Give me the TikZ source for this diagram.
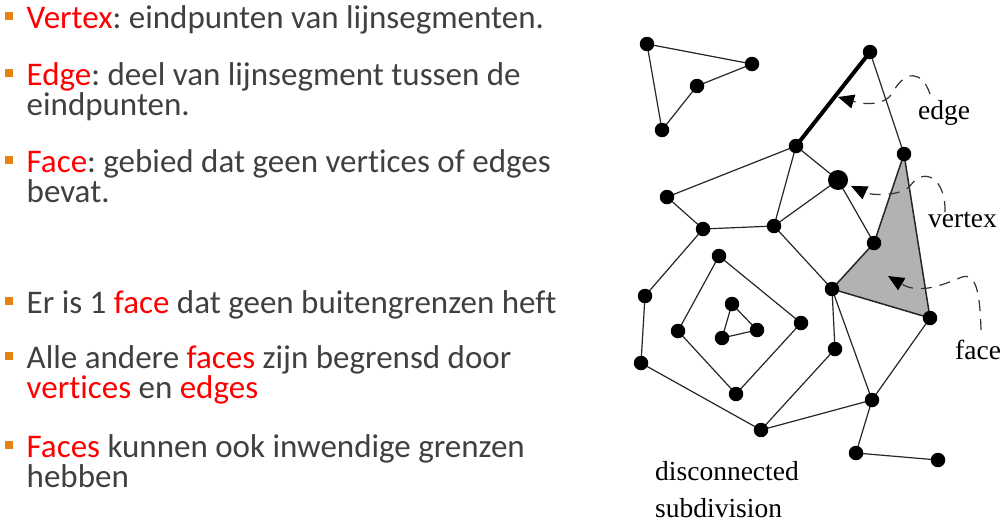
\documentclass[tikz,border=0pt]{standalone}
\usepackage{fontspec}
\newfontfamily\carlito[Ligatures=NoCommon]{Carlito}
\newfontfamily\timesf{Liberation Serif}
\usetikzlibrary{arrows.meta,backgrounds}
\definecolor{txtgray}{RGB}{64,64,64}
\definecolor{bulorange}{RGB}{228,131,18}
\definecolor{facegray}{RGB}{178,178,178}
\definecolor{hlred}{RGB}{255,0,0}
\frenchspacing
\begin{document}
\begin{tikzpicture}[x=1pt,y=-1pt,
 vtx/.style={circle, fill=black, draw=none, inner sep=0pt, minimum size=14.5pt},
 bigvtx/.style={vtx, minimum size=20pt},
 ln/.style={line width=1.2pt, draw=black!85},
 thickln/.style={line width=4pt, draw=black},
 lbl/.style={font=\timesf\fontsize{27.5}{30}\selectfont, anchor=base west, inner sep=0pt, text=black},
 txt/.style={font=\carlito\fontsize{33}{30}\selectfont\frenchspacing, anchor=base west, inner sep=0pt, text=txtgray},
 bul/.style={rectangle, fill=bulorange, draw=none, inner sep=0pt, minimum size=8.5pt},
 callout/.style={dash pattern=on 11pt off 8pt, line width=1.2pt, draw=black!80, -{Triangle[length=16pt,width=14pt,color=black,fill=black]}},
]
\useasboundingbox (0,0) rectangle (1006,523);

% ---------- left text ----------
\node[bul] (b1) at (9.2,16) {};
\node[txt] (t1) at (26.5,28) {\textcolor{hlred}{Vertex}: eindpunten van lijnsegmenten.};
\node[bul] (b2) at (9.2,73) {};
\node[txt] (t2) at (26.5,85) {\textcolor{hlred}{Edge}: deel van lijnsegment tussen de};
\node[txt] (t3) at (26.5,115) {eindpunten.};
\node[bul] (b4) at (9.2,160) {};
\node[txt] (t4) at (26.5,172) {\textcolor{hlred}{Face}: gebied dat geen vertices of edges};
\node[txt] (t5) at (26.5,202) {bevat.};
\node[bul] (b6) at (9.2,301) {};
\node[txt] (t6) at (26.5,313) {Er is 1 \textcolor{hlred}{face} dat geen buitengrenzen heft};
\node[bul] (b7) at (9.2,356) {};
\node[txt] (t7) at (26.5,368) {Alle andere \textcolor{hlred}{faces} zijn begrensd door};
\node[txt] (t8) at (26.5,398) {\textcolor{hlred}{vertices} en \textcolor{hlred}{edges}};
\node[bul] (b9) at (9.2,445) {};
\node[txt] (t9) at (26.5,457) {\textcolor{hlred}{Faces} kunnen ook inwendige grenzen};
\node[txt] (t10) at (26.5,487) {hebben};

% ---------- vertices ----------
\node[vtx] (A1) at (647,44) {};
\node[vtx] (A2) at (752,64) {};
\node[vtx] (A3) at (697,86) {};
\node[vtx] (A4) at (662,130) {};
\node[vtx] (B) at (796,146) {};
\node[vtx] (C) at (870,52) {};
\node[vtx] (D) at (904,154) {};
\node[bigvtx] (E) at (838,180) {};
\node[vtx] (F) at (667,197) {};
\node[vtx] (G) at (774,226) {};
\node[vtx] (H) at (703,229) {};
\node[vtx] (I) at (832,289) {};
\node[vtx] (J) at (874,243) {};
\node[vtx] (K) at (930,318) {};
\node[vtx] (L) at (645,296) {};
\node[vtx] (M) at (641,363) {};
\node[vtx] (N) at (761,430) {};
\node[vtx] (O) at (872,400) {};
\node[vtx] (P) at (856,453) {};
\node[vtx] (Q) at (938,460) {};
\node[vtx] (R) at (835,349) {};
\node[vtx] (S) at (736,394) {};
\node[vtx] (T) at (719,256) {};
\node[vtx] (U) at (678,331) {};
\node[vtx] (V) at (801,323) {};
\node[vtx] (W) at (732,304) {};
\node[vtx] (X) at (757,330) {};
\node[vtx] (Y) at (722,338) {};

% ---------- face + edges (behind vertices) ----------
\begin{scope}[on background layer]
\fill[facegray] (D.center) -- (J.center) -- (I.center) -- (K.center) -- cycle;
\draw[ln] (A1.center) -- (A2.center) -- (A3.center) -- (A4.center) -- (A1.center);
\draw[thickln] (B.center) -- (C.center);
\draw[ln] (C.center) -- (D.center);
\draw[ln] (B.center) -- (E.center);
\draw[ln] (B.center) -- (F.center);
\draw[ln] (B.center) -- (G.center);
\draw[ln] (F.center) -- (H.center);
\draw[ln] (H.center) -- (G.center);
\draw[ln] (H.center) -- (L.center);
\draw[ln] (G.center) -- (E.center);
\draw[ln] (G.center) -- (I.center);
\draw[ln] (E.center) -- (J.center);
\draw[ln, line width=1.5pt] (D.center) -- (J.center) -- (I.center) -- (K.center) -- (D.center);
\draw[ln] (I.center) -- (R.center);
\draw[ln] (I.center) -- (O.center);
\draw[ln] (K.center) -- (O.center);
\draw[ln] (L.center) -- (M.center);
\draw[ln] (M.center) -- (N.center);
\draw[ln] (N.center) -- (R.center);
\draw[ln] (N.center) -- (O.center);
\draw[ln] (O.center) -- (P.center);
\draw[ln] (P.center) -- (Q.center);
\draw[ln] (T.center) -- (U.center);
\draw[ln] (T.center) -- (V.center);
\draw[ln] (U.center) -- (S.center);
\draw[ln] (V.center) -- (S.center);
\draw[ln] (W.center) -- (X.center) -- (Y.center) -- (W.center);
\end{scope}

% ---------- callouts ----------
\coordinate (edgeEnd) at (930,94);
\coordinate (edgeTip) at (838,97);
\coordinate (vertexEnd) at (945,212);
\coordinate (vertexTip) at (851,186);
\coordinate (faceEnd) at (981,330);
\coordinate (faceTip) at (888,276);
\draw[callout] (edgeEnd) .. controls (922,70) and (905,70) .. (893,92) .. controls (885,107) and (862,104) .. (edgeTip);
\draw[callout] (vertexEnd) .. controls (946,180) and (925,165) .. (910,186) .. controls (900,197) and (870,195) .. (vertexTip);
\draw[callout] (faceEnd) .. controls (980,300) and (978,272) .. (962,277) .. controls (945,284) and (920,295) .. (faceTip);

% ---------- labels ----------
\node[lbl] (ledge) at (918,119) {edge};
\node[lbl] (lvertex) at (928,227) {vertex};
\node[lbl] (lface) at (955,359) {face};
\node[lbl] (ldisc) at (655,480) {disconnected};
\node[lbl] (lsub) at (655,517) {subdivision};
\end{tikzpicture}
\end{document}
